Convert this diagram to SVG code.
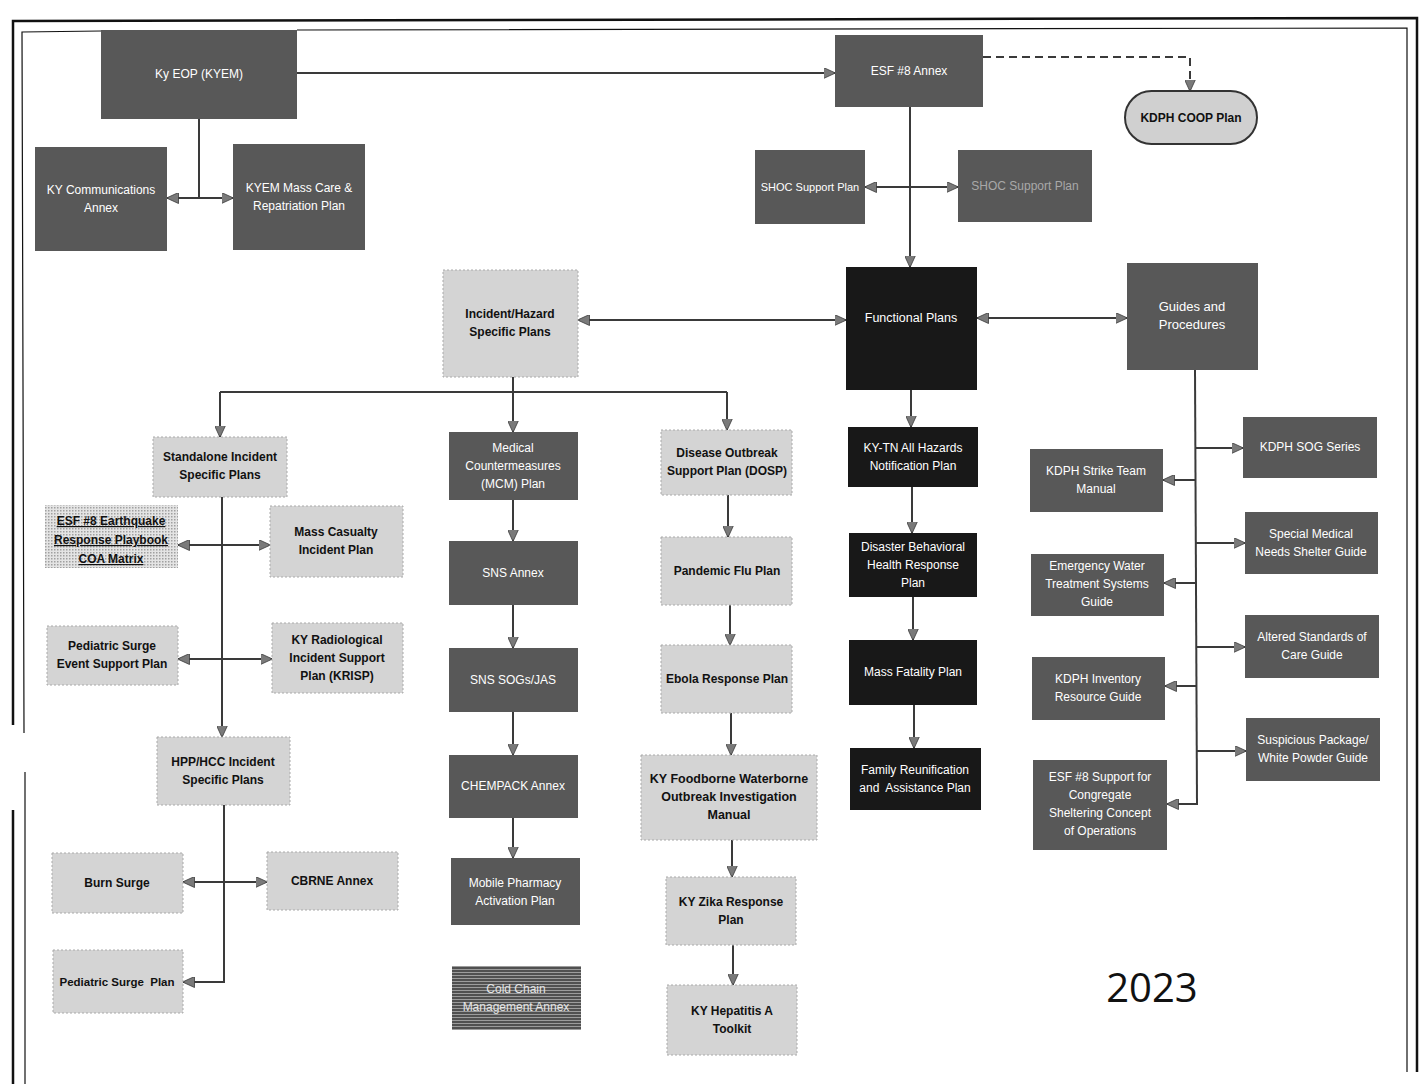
<svg xmlns="http://www.w3.org/2000/svg" width="1422" height="1084" viewBox="0 0 1422 1084">
<defs>
  <marker id="ah" viewBox="0 0 12 11" refX="11.5" refY="5.5" markerWidth="12" markerHeight="11" markerUnits="userSpaceOnUse" orient="auto-start-reverse">
    <path d="M0,0 L12,5.5 L0,11 z" fill="#7a7a7a" stroke="#3a3a3a" stroke-width="0.8"/>
  </marker>
  <pattern id="stripes" width="4" height="3" patternUnits="userSpaceOnUse">
    <rect width="4" height="3" fill="#505050"/>
    <rect width="4" height="1" fill="#9c9c9c"/>
  </pattern>
  <pattern id="checks" width="3" height="3" patternUnits="userSpaceOnUse">
    <rect width="3" height="3" fill="#e4e4e4"/>
    <rect width="1.5" height="1.5" fill="#a0a0a0"/>
  </pattern>
</defs>
<style>
  .dk{fill:#585858}
  .bk{fill:#181818}
  .lt{fill:#d4d4d4;stroke:#aaaaaa;stroke-width:1;stroke-dasharray:2 2}
  .tw{font-family:"Liberation Sans",Arial,sans-serif;font-size:12px;fill:#ffffff;text-anchor:middle}
  .tb{font-family:"Liberation Sans",Arial,sans-serif;font-size:12px;font-weight:bold;fill:#111111;text-anchor:middle}
  .ln{fill:none;stroke:#3a3a3a;stroke-width:2}
  .ar{fill:none;stroke:#3a3a3a;stroke-width:2;marker-end:url(#ah)}
  .ar2{fill:none;stroke:#3a3a3a;stroke-width:2;marker-start:url(#ah);marker-end:url(#ah)}
  .frame{fill:none;stroke:#111111}
</style>
<rect width="1422" height="1084" fill="#ffffff"/>

<!-- page frame -->
<g id="frame">
  <path class="frame" stroke-width="2.5" d="M13,725 L13,21 L1417,18 L1417,1072"/>
  <path class="frame" stroke-width="2.5" d="M13,810 L13,1084"/>
  <path class="frame" stroke-width="1.2" d="M24,733 L22,32 L101,31 M297,30 L1407,28 L1407,1072"/>
  <path class="frame" stroke-width="1.2" d="M25,772 L25,1084"/>
</g>

<!-- connectors -->
<g id="connectors">
  <path class="ar" d="M297,73 L835,73"/>
  <path class="ln" d="M199,119 L199,198"/>
  <path class="ar2" d="M167,198 L233,198"/>
  <path class="ar" d="M983,57 L1190,57 L1190,91" stroke-dasharray="8 5"/>
  <path class="ar" d="M910,107 L910,267"/>
  <path class="ar2" d="M865,187 L958,187"/>
  <path class="ar2" d="M578,320 L846,320"/>
  <path class="ar2" d="M977,318 L1127,318"/>
  <path class="ln" d="M513,377 L513,392 M220,392 L727,392"/>
  <path class="ar" d="M220,392 L220,437"/>
  <path class="ar" d="M513,392 L513,432"/>
  <path class="ar" d="M727,392 L727,430"/>
  <path class="ar" d="M222,497 L222,737"/>
  <path class="ar2" d="M178,545 L270,545"/>
  <path class="ar2" d="M178,659 L272,659"/>
  <path class="ar" d="M224,805 L224,982 L183,982"/>
  <path class="ar2" d="M183,882 L267,882"/>
  <path class="ar" d="M513,500 L513,541"/>
  <path class="ar" d="M513,605 L513,648"/>
  <path class="ar" d="M513,712 L513,755"/>
  <path class="ar" d="M513,818 L513,858"/>
  <path class="ar" d="M728,495 L728,537"/>
  <path class="ar" d="M730,605 L730,645"/>
  <path class="ar" d="M731,713 L731,755"/>
  <path class="ar" d="M732,840 L732,877"/>
  <path class="ar" d="M733,945 L733,985"/>
  <path class="ar" d="M911,390 L911,427"/>
  <path class="ar" d="M912,487 L912,533"/>
  <path class="ar" d="M913,597 L913,640"/>
  <path class="ar" d="M914,705 L914,748"/>
  <path class="ln" d="M1195,370 L1197,804"/>
  <path class="ar" d="M1196,448 L1243,448"/>
  <path class="ar" d="M1196,543 L1245,543"/>
  <path class="ar" d="M1197,647 L1245,647"/>
  <path class="ar" d="M1197,751 L1246,751"/>
  <path class="ar" d="M1196,480 L1163,480"/>
  <path class="ar" d="M1196,583 L1164,583"/>
  <path class="ar" d="M1197,686 L1165,686"/>
  <path class="ar" d="M1198,804 L1167,804"/>
</g>

<!-- state and emergency operations -->
<g id="ky-eop"><rect class="dk" x="101" y="30" width="196" height="89"/><text class="tw" x="199" y="78">Ky EOP (KYEM)</text></g>
<g id="ky-comm"><rect class="dk" x="35" y="147" width="132" height="104"/><text class="tw" x="101" y="194">KY Communications<tspan x="101" dy="18">Annex</tspan></text></g>
<g id="kyem-mass-care"><rect class="dk" x="233" y="144" width="132" height="106"/><text class="tw" x="299" y="192">KYEM Mass Care &amp;<tspan x="299" dy="18">Repatriation Plan</tspan></text></g>
<g id="esf8-annex"><rect class="dk" x="835" y="35" width="148" height="72"/><text class="tw" x="909" y="75">ESF #8 Annex</text></g>
<g id="kdph-coop"><rect x="1125" y="91" width="132" height="53" rx="26.5" fill="#d0d0d0" stroke="#333333" stroke-width="2"/><text class="tb" x="1191" y="122">KDPH COOP Plan</text></g>
<g id="shoc-1"><rect class="dk" x="755" y="150" width="110" height="74"/><text class="tw" x="810" y="191" style="font-size:11px">SHOC Support Plan</text></g>
<g id="shoc-2"><rect class="dk" x="958" y="150" width="134" height="72"/><text class="tw" x="1025" y="190" style="fill:#a8a8a8">SHOC Support Plan</text></g>

<!-- plan categories -->
<g id="incident-hazard"><rect class="lt" x="443" y="270" width="135" height="107"/><text class="tb" x="510" y="318">Incident/Hazard<tspan x="510" dy="18">Specific Plans</tspan></text></g>
<g id="functional"><rect class="bk" x="846" y="267" width="131" height="123"/><text class="tw" x="911" y="322" style="font-size:12.5px">Functional Plans</text></g>
<g id="guides"><rect class="dk" x="1127" y="263" width="131" height="107"/><text class="tw" x="1192" y="311" style="font-size:13px">Guides and<tspan x="1192" dy="18">Procedures</tspan></text></g>

<!-- incident specific plans -->
<g id="standalone"><rect class="lt" x="153" y="437" width="134" height="60"/><text class="tb" x="220" y="461">Standalone Incident<tspan x="220" dy="18">Specific Plans</tspan></text></g>
<g id="esf8-earthquake"><rect x="45" y="505" width="133" height="63" fill="url(#checks)"/><text class="tb" x="111" y="525" text-decoration="underline">ESF #8 Earthquake<tspan x="111" dy="19">Response Playbook</tspan><tspan x="111" dy="19">COA Matrix</tspan></text></g>
<g id="mass-casualty"><rect class="lt" x="270" y="506" width="133" height="71"/><text class="tb" x="336" y="536">Mass Casualty<tspan x="336" dy="18">Incident Plan</tspan></text></g>
<g id="pediatric-event"><rect class="lt" x="47" y="626" width="131" height="59"/><text class="tb" x="112" y="650">Pediatric Surge<tspan x="112" dy="18">Event Support Plan</tspan></text></g>
<g id="krisp"><rect class="lt" x="272" y="623" width="131" height="70"/><text class="tb" x="337" y="644">KY Radiological<tspan x="337" dy="18">Incident Support</tspan><tspan x="337" dy="18">Plan (KRISP)</tspan></text></g>
<g id="hpp-hcc"><rect class="lt" x="157" y="737" width="133" height="68"/><text class="tb" x="223" y="766">HPP/HCC Incident<tspan x="223" dy="18">Specific Plans</tspan></text></g>
<g id="burn-surge"><rect class="lt" x="52" y="853" width="131" height="60"/><text class="tb" x="117" y="887">Burn Surge</text></g>
<g id="cbrne"><rect class="lt" x="267" y="852" width="131" height="58"/><text class="tb" x="332" y="885">CBRNE Annex</text></g>
<g id="pediatric-surge"><rect class="lt" x="53" y="950" width="130" height="63"/><text class="tb" x="117" y="986" style="font-size:11.5px" xml:space="preserve">Pediatric Surge  Plan</text></g>

<!-- medical countermeasures -->
<g id="mcm"><rect class="dk" x="449" y="432" width="129" height="68"/><text class="tw" x="513" y="452">Medical<tspan x="513" dy="18">Countermeasures</tspan><tspan x="513" dy="18">(MCM) Plan</tspan></text></g>
<g id="sns-annex"><rect class="dk" x="449" y="541" width="129" height="64"/><text class="tw" x="513" y="577">SNS Annex</text></g>
<g id="sns-sogs"><rect class="dk" x="449" y="648" width="129" height="64"/><text class="tw" x="513" y="684">SNS SOGs/JAS</text></g>
<g id="chempack"><rect class="dk" x="449" y="755" width="129" height="63"/><text class="tw" x="513" y="790">CHEMPACK Annex</text></g>
<g id="mobile-pharmacy"><rect class="dk" x="451" y="858" width="129" height="67"/><text class="tw" x="515" y="887">Mobile Pharmacy<tspan x="515" dy="18">Activation Plan</tspan></text></g>
<g id="cold-chain"><rect x="452" y="966" width="129" height="64" fill="url(#stripes)"/><text class="tw" x="516" y="993" style="fill:#e6e6e6">Cold Chain<tspan x="516" dy="18">Management Annex</tspan></text></g>

<!-- disease outbreak -->
<g id="dosp"><rect class="lt" x="661" y="430" width="131" height="65"/><text class="tb" x="727" y="457">Disease Outbreak<tspan x="727" dy="18">Support Plan (DOSP)</tspan></text></g>
<g id="pandemic-flu"><rect class="lt" x="661" y="537" width="131" height="68"/><text class="tb" x="727" y="575">Pandemic Flu Plan</text></g>
<g id="ebola"><rect class="lt" x="661" y="645" width="131" height="68"/><text class="tb" x="727" y="683">Ebola Response Plan</text></g>
<g id="foodborne"><rect class="lt" x="641" y="755" width="176" height="85"/><text class="tb" x="729" y="783" style="font-size:12.5px">KY Foodborne Waterborne<tspan x="729" dy="18">Outbreak Investigation</tspan><tspan x="729" dy="18">Manual</tspan></text></g>
<g id="zika"><rect class="lt" x="666" y="877" width="130" height="68"/><text class="tb" x="731" y="906">KY Zika Response<tspan x="731" dy="18">Plan</tspan></text></g>
<g id="hepatitis-a"><rect class="lt" x="667" y="985" width="130" height="70"/><text class="tb" x="732" y="1015">KY Hepatitis A<tspan x="732" dy="18">Toolkit</tspan></text></g>

<!-- functional plans -->
<g id="ky-tn"><rect class="bk" x="848" y="427" width="130" height="60"/><text class="tw" x="913" y="452">KY-TN All Hazards<tspan x="913" dy="18">Notification Plan</tspan></text></g>
<g id="behavioral-health"><rect class="bk" x="849" y="533" width="128" height="64"/><text class="tw" x="913" y="551">Disaster Behavioral<tspan x="913" dy="18">Health Response</tspan><tspan x="913" dy="18">Plan</tspan></text></g>
<g id="mass-fatality"><rect class="bk" x="849" y="640" width="128" height="65"/><text class="tw" x="913" y="676">Mass Fatality Plan</text></g>
<g id="family-reunification"><rect class="bk" x="850" y="748" width="131" height="62"/><text class="tw" x="915" y="774" xml:space="preserve">Family Reunification<tspan x="915" dy="18">and  Assistance Plan</tspan></text></g>

<!-- guides and procedures -->
<g id="kdph-sog"><rect class="dk" x="1243" y="417" width="134" height="61"/><text class="tw" x="1310" y="451">KDPH SOG Series</text></g>
<g id="strike-team"><rect class="dk" x="1030" y="449" width="133" height="63"/><text class="tw" x="1096" y="475">KDPH Strike Team<tspan x="1096" dy="18">Manual</tspan></text></g>
<g id="special-medical"><rect class="dk" x="1245" y="512" width="133" height="62"/><text class="tw" x="1311" y="538">Special Medical<tspan x="1311" dy="18">Needs Shelter Guide</tspan></text></g>
<g id="emergency-water"><rect class="dk" x="1031" y="554" width="133" height="62"/><text class="tw" x="1097" y="570">Emergency Water<tspan x="1097" dy="18">Treatment Systems</tspan><tspan x="1097" dy="18">Guide</tspan></text></g>
<g id="altered-standards"><rect class="dk" x="1245" y="615" width="134" height="63"/><text class="tw" x="1312" y="641">Altered Standards of<tspan x="1312" dy="18">Care Guide</tspan></text></g>
<g id="kdph-inventory"><rect class="dk" x="1032" y="657" width="133" height="63"/><text class="tw" x="1098" y="683">KDPH Inventory<tspan x="1098" dy="18">Resource Guide</tspan></text></g>
<g id="suspicious-package"><rect class="dk" x="1246" y="718" width="134" height="63"/><text class="tw" x="1313" y="744">Suspicious Package/<tspan x="1313" dy="18">White Powder Guide</tspan></text></g>
<g id="esf8-sheltering"><rect class="dk" x="1033" y="760" width="134" height="90"/><text class="tw" x="1100" y="781">ESF #8 Support for<tspan x="1100" dy="18">Congregate</tspan><tspan x="1100" dy="18">Sheltering Concept</tspan><tspan x="1100" dy="18">of Operations</tspan></text></g>

<!-- year -->
<text x="1152" y="1002" text-anchor="middle" font-family="'Open Sans','Noto Sans',sans-serif" font-size="40" fill="#111111">2023</text>
</svg>
